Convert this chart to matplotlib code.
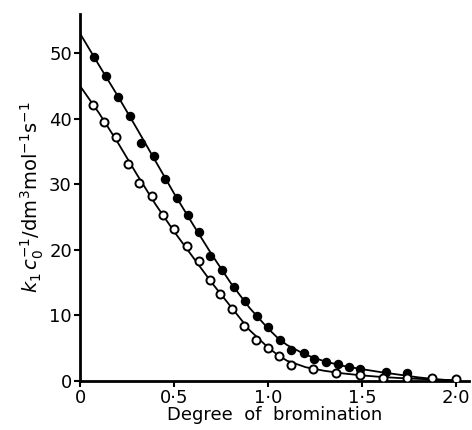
import numpy as np
import matplotlib
matplotlib.use("Agg")
import matplotlib.pyplot as plt

plt.rcParams['font.family'] = ['DejaVu Sans']
plt.rcParams['mathtext.fontset'] = 'dejavusans'

# data
x_filled = [0.075, 0.138, 0.20, 0.266, 0.325, 0.39, 0.45, 0.515, 0.573, 0.633, 0.69,
            0.755, 0.82, 0.878, 0.94, 1.0, 1.064, 1.12, 1.19, 1.245, 1.31, 1.37,
            1.43, 1.49, 1.63, 1.74]
y_filled = [49.5, 46.5, 43.4, 40.4, 36.4, 34.4, 30.8, 27.9, 25.3, 22.7, 19.1,
            16.9, 14.3, 12.2, 9.9, 8.2, 6.25, 4.7, 4.2, 3.3, 2.9, 2.6,
            2.2, 1.9, 1.4, 1.2]

x_open = [0.07, 0.128, 0.19, 0.255, 0.315, 0.38, 0.44, 0.50, 0.57, 0.63, 0.69,
          0.745, 0.81, 0.87, 0.935, 1.0, 1.06, 1.12, 1.24, 1.36, 1.49, 1.61,
          1.74, 1.87, 2.0]
y_open = [42.2, 39.5, 37.2, 33.2, 30.3, 28.2, 25.3, 23.2, 20.6, 18.3, 15.4,
          13.3, 11.0, 8.4, 6.25, 5.0, 3.8, 2.4, 1.8, 1.2, 0.9, 0.5,
          0.4, 0.4, 0.3]

# fitted curves
curve_x = [0.0, 0.1, 0.2, 0.3, 0.4, 0.5, 0.6, 0.7, 0.8, 0.9, 1.0, 1.05, 1.1,
           1.2, 1.3, 1.4, 1.5, 1.6, 1.7, 1.8, 1.9, 2.0]
curve_filled = [53.0, 48.2, 43.5, 38.6, 33.6, 28.6, 23.9, 19.3, 15.0, 11.2, 8.0,
                6.6, 5.5, 4.0, 3.0, 2.3, 1.8, 1.35, 0.95, 0.55, 0.25, 0.05]
curve_open = [45.0, 40.9, 36.4, 31.6, 27.0, 22.8, 18.9, 15.0, 11.4, 7.8, 5.1,
              4.0, 3.1, 2.1, 1.55, 1.15, 0.85, 0.62, 0.45, 0.32, 0.2, 0.1]

xticks = [0, 0.5, 1.0, 1.5, 2.0]
xticklabels = ["0", "0\u00b75", "1\u00b70", "1\u00b75", "2\u00b70"]
yticks = [0, 10, 20, 30, 40, 50]

fig = plt.figure(figsize=(4.72, 4.30), dpi=100)
ax = fig.add_axes([0.17, 0.114, 0.824, 0.853])

ax.plot(curve_x, curve_filled, color='black', lw=1.3, zorder=2)
ax.plot(curve_x, curve_open, color='black', lw=1.3, zorder=2)
ax.plot(x_filled, y_filled, 'o', color='black', ms=5.8, zorder=3)
ax.plot(x_open, y_open, 'o', mfc='white', mec='black', mew=1.4, ms=5.8, zorder=3)

ax.set_xlim(0, 2.07)
ax.set_ylim(0, 56)
ax.set_xticks(xticks)
ax.set_xticklabels(xticklabels)
ax.set_yticks(yticks)

for s in ['right', 'top']:
    ax.spines[s].set_visible(False)
for s in ['left', 'bottom']:
    ax.spines[s].set_linewidth(2)

ax.tick_params(direction='out', length=4, width=1.5, labelsize=13, pad=2)

ax.set_xlabel("Degree  of  bromination", fontsize=13, labelpad=-1)
ax.set_ylabel(r"$k_1\,c_0^{-1}$/dm$^3$mol$^{-1}$s$^{-1}$", fontsize=14, labelpad=2)

plt.savefig("out.png", dpi=100)
